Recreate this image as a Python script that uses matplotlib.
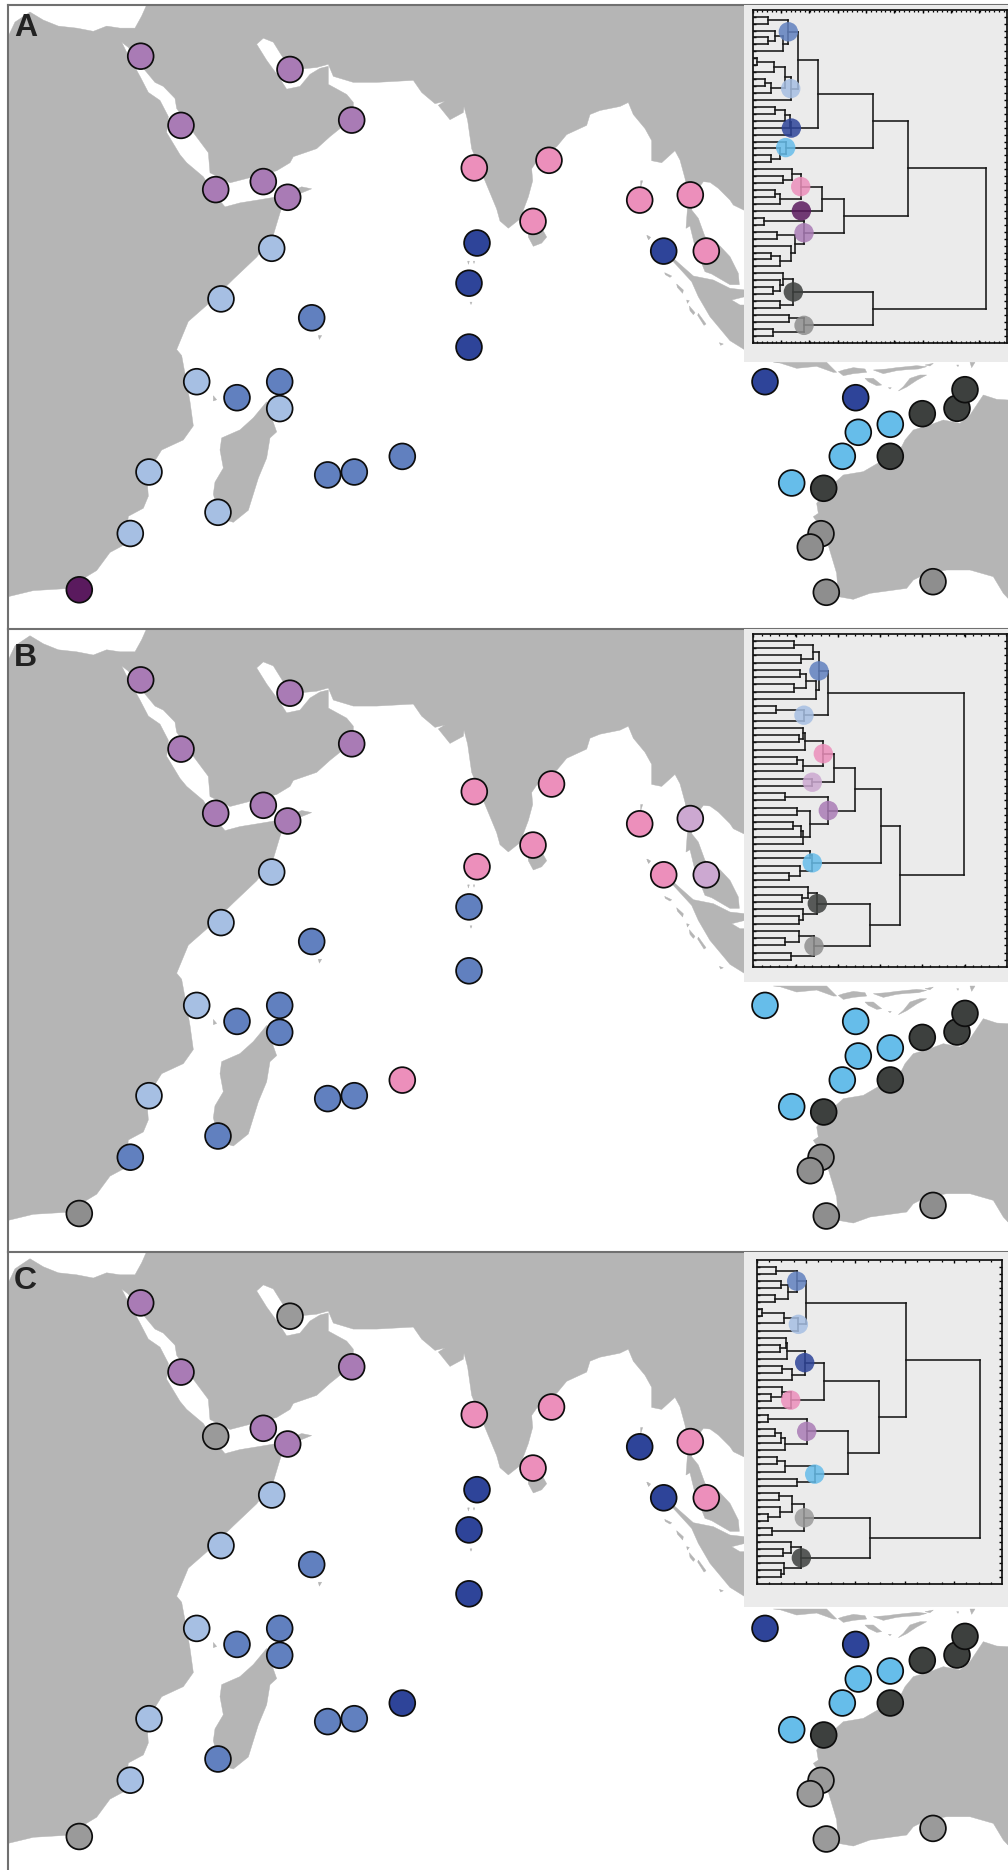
import matplotlib
matplotlib.use("Agg")
import matplotlib.pyplot as plt
from matplotlib.patches import Polygon, Rectangle
from matplotlib.collections import LineCollection
from matplotlib.ticker import MultipleLocator
import numpy as np

W, H = 1008, 1870
PU, LI, BL, DB, PK = '#a97bb5', '#a6bfe3', '#6180bf', '#2e4499', '#ec8fbb'
SK, DK, GR, DP, LP, LG = '#66bdea', '#3d403e', '#8e8e8e', '#5a1a5e', '#cca8d1', '#9a9a9a'
LAND = '#b5b5b5'

site_x = [140.7,290,181,351.7,215.7,263.3,287.7,271.7,221,311.7,196.7,237,279.7,279.7,149,218,130.3,79.3,
          327.7,354.3,402.3,474.3,549,533,477,469,469,639.7,690.3,663.7,706.3,765,855.7,858.3,890.3,842.3,
          791.7,922.3,957,965,890.3,823.7,821,810.3,826.3,933]
site_y = [56.2,69.5,125.4,120.1,189.6,181.6,197.3,248.3,298.9,317.8,381.7,397.7,381.7,408.6,472,512.3,533.5,589.8,
          474.9,472,456.4,167.9,160.3,221.4,243,283.2,347.1,200.1,194.9,251.1,251.1,381.7,397.7,432.3,424.3,456.3,
          483,413.7,408.3,389.7,456.3,488.3,533.7,547,592.3,581.7]
site_x_bc = list(site_x)
site_x_bc[22] = 551.5

colors_a = [PU]*7+[LI,LI,BL,LI,BL,BL,LI,LI,LI,LI,DP,BL,BL,BL,PK,PK,PK,DB,DB,DB,PK,PK,DB,PK,DB,DB,SK,SK,SK,SK,DK,DK,DK,DK,DK,GR,GR,GR,GR]
colors_b = [PU]*7+[LI,LI,BL,LI,BL,BL,BL,LI,BL,BL,GR,BL,BL,PK,PK,PK,PK,PK,BL,BL,PK,LP,PK,LP,SK,SK,SK,SK,SK,SK,DK,DK,DK,DK,DK,GR,GR,GR,GR]
colors_c = [PU,LG,PU,PU,LG,PU,PU,LI,LI,BL,LI,BL,BL,BL,LI,BL,LI,LG,BL,BL,DB,PK,PK,PK,DB,DB,DB,DB,PK,DB,PK,DB,DB,SK,SK,SK,SK,DK,DK,DK,DK,DK,LG,LG,LG,LG]

# coast traces
coast_west = [(25,1485),(100,1470),(200,1465),(290,1420),(330,1375),(375,1355),(385,1285),(430,1265),(445,1235),(440,1180),
 (485,1120),(550,1095),(580,1060),(570,1000),(555,930),(545,885),(530,870),(550,830),(565,800),(620,760),(700,695),(770,640),
 (820,585),(840,530),(850,505),(905,480),(935,470),(905,465),(830,490),(780,497),(720,505),(675,515),(640,480),(610,440),(560,405),
 (540,385),(500,330),(505,290),(480,250),(445,230),(420,190),(380,130),(365,105),(385,118),(420,160),(465,205),(490,215),(525,245),
 (530,270),(580,330),(625,380),(630,430),(690,455),(760,440),(830,425),(870,405),(880,390),(950,370),(990,340),(1020,320),(1060,275),
 (1060,255),(1040,235),(985,210),(985,165),(960,170),(930,185),(900,215),(860,222),(835,190),(800,150),(770,110),(790,95),(820,105),
 (850,145),(900,172),(950,168),(985,160),(1000,190),(1060,205),(1130,205),(1240,200)]
coast_india = [(65,230),(105,258),(135,252),(115,262),(150,298),(190,280),(192,265),(203,300),(215,370),(255,450),(290,520),(300,550),
 (325,568),(360,545),(385,490),(398,450),(395,420),(420,390),(470,365),(500,335),(560,312),(570,285),(600,275),(660,265),(685,255),
 (700,285),(735,320),(755,350),(755,400),(785,405),(825,375)]
coast_malay = [(150,30),(165,85),(175,140),(172,180),(168,235),(180,228),(195,290),(225,365),(245,372),(300,404),(328,404),(325,370),
 (300,320),(270,288),(225,260),(205,205),(185,180),(195,130),(220,95),(240,97),(265,115),(300,150),(310,165),(345,182),(345,-450)]
coast_north = [(440,12),(425,40),(405,70),(360,70),(320,65),(280,78),(230,70),(175,65),(130,50),(90,30),(45,55),(25,90)]
madagascar = [(760,1040),(800,1000),(815,1040),(830,1075),(810,1090),(800,1140),(775,1190),(745,1270),(700,1300),(660,1290),(640,1230),
 (645,1200),(670,1165),(660,1120),(665,1090),(720,1070)]
small_west = [[(640,985),(650,995),(640,998)],[(955,835),(965,835),(958,845)]]
sri_lanka = [(385,545),(420,560),(440,590),(425,605),(400,613),(385,590)]
small_mid = [[(203,650),(208,650),(205,658)],[(220,650),(224,650),(222,656)],[(210,752),(216,752),(213,758)],
 [(722,450),(728,450),(722,466)],[(740,586),(750,592),(746,597)]]
sumatra = [(100,303),(130,325),(190,378),(250,390),(300,415),(345,420),(345,440),(305,450),(330,465),(345,465),(345,600),(300,572),
 (240,500),(205,440),(185,395),(130,335)]
small_sumatra = [[(52,256),(62,262),(55,268)],[(104,368),(125,378),(120,382),(106,374)],[(140,402),(160,420),(158,430),(142,412)],
 [(178,468),(195,488),(190,494),(180,482)],[(205,490),(228,522),(222,526),(203,496)],[(170,450),(178,452),(172,460)],[(268,578),(280,582),(272,586)]]
indonesia = [[(130,22),(290,22),(320,52),(310,52),(260,34),(200,40),(150,24)],[(325,50),(340,45),(370,38),(405,42),(410,52),(370,56),(340,62)],
 [(430,45),(470,42),(500,38),(560,32),(590,35),(565,42),(530,44),(500,47),(460,56)],[(405,70),(430,70),(455,90),(440,92),(415,80)],
 [(505,108),(520,95),(540,70),(570,60),(590,60),(560,76),(530,96)],[(585,30),(610,25),(600,33)],[(720,22),(735,22),(725,38)],[(680,30),(686,30),(684,35)],[(475,98),(484,98),(480,102)]]
australia = [(1074,180),(1040,178),(1000,165),(960,225),(930,250),(880,240),(840,255),(790,270),(765,300),(755,320),(700,360),(640,395),(580,405),
 (530,450),(500,490),(505,520),(490,530),(510,560),(530,600),(545,650),(560,700),(565,770),(610,778),(660,760),(770,745),(790,720),(830,700),
 (890,690),(960,690),(1030,710),(1060,760),(1074,775)]

def zw(p): return [(x/3, y/2.489) for x, y in p]
def zm(p): return [(400+x/3, y/2.489) for x, y in p]
def z7(p): return [(630+x/3, 150+y/3) for x, y in p]
def z8(p): return [(730+x/3, 355+y/3) for x, y in p]
def z4(p): return [(650+x/3, 340+y/3) for x, y in p]

land = [zw(coast_west)+zm(coast_india)+z7(coast_malay)+zw(coast_north), zw(madagascar), zm(sri_lanka), z7(sumatra), z4(australia)]
land += [zw(s) for s in small_west]+[zm(s) for s in small_mid]+[z7(s) for s in small_sumatra]+[z8(s) for s in indonesia]

# dendrograms: (height, child, child[, cluster colour]); 0 = leaf, (h, colour) = leaf carrying a cluster dot
tree_a = (699,
 (467,
  (362,
   (197,
    (137,
     (107,(47,0,0),(90,(67,0,(47,0,0)),0),BL),
     (114,(97,(65,(14,0,0),0),(54,(37,0,0),0)),0,LI)),
    (116,(112,(97,(67,0,0),0),0),0,DB)),
   (99,0,(82,0,(54,0,0)),SK)),
  (275,
   (207,(144,(117,0,(90,0,0)),(82,(67,0,0),0),PK),(146,DP)),
   (154,(34,0,0),(127,(72,0,0),(115,0,(82,(54,0,0),0))),PU))),
 (360,
  (122,(90,0,(82,0,(62,0,0))),(82,0,0),DK),
  (154,(110,0,0),(62,0,0),GR)))

tree_b = (632,
 (223,
  (197,(180,(123,0,0),(142,0,0)),(188,(158,(140,0,0),(122,0,0)),0),BL),
  (152,(67,0,0),0,LI)),
 (440,
  (382,
   (304,
    (242,
     (210,(156,(150,0,(138,0,0)),0),(150,(130,0,0),0),PK),
     (177,0,0,LP)),
    (225,(95,0,0),(171,(132,0,0),(150,(142,(120,0,0),0),0)),PU)),
   (177,(170,0,0),(140,0,(108,0,0)),SK)),
  (350,
   (192,(165,0,(146,0,0)),(150,0,(138,0,0)),DK),
   (182,(138,0,(96,0,0)),(112,0,0),GR))))

tree_c = (671,
 (448,
  (147,
   (120,(57,0,0),(93,(72,0,0),(55,0,0)),BL),
   (125,(82,(17,0,0),0),0,LI)),
  (367,
   (203,
    (144,(90,(88,0,(70,0,0)),0),(107,(75,0,0),0),DB),
    (102,(75,0,(43,0,0)),0,PK)),
   (275,
    (150,(35,0,0),(85,(72,(55,0,0),0),0),PU),
    (174,(84,(62,0,0),0),(120,0,0),SK)))),
 (340,
  (143,(106,(66,0,0),(71,0,(35,0,0))),(47,0,0),LG),
  (134,(102,0,(80,0,0)),(83,0,(72,0,0)),DK)))

def layout(node, state):
    """returns (height, y) of node; fills segments and dots"""
    if node == 0 or len(node) == 2:
        y = state['n']
        state['n'] += 1
        if node != 0:
            state['dots'].append((node[0], y, node[1]))
        return 0, y
    h, a, b = node[:3]
    ha, ya = layout(a, state)
    hb, yb = layout(b, state)
    state['seg'] += [[(ha, ya), (h, ya)], [(hb, yb), (h, yb)], [(h, ya), (h, yb)]]
    y = (ya+yb)/2
    if len(node) == 4:
        state['dots'].append((h, y, node[3]))
    return h, y

fig = plt.figure(figsize=(W/100, H/100), dpi=100, facecolor='white')

def px_axes(x0, y0, x1, y1):
    return fig.add_axes([x0/W, 1-y1/H, (x1-x0)/W, (y1-y0)/H])

panels = [
 dict(top=5.0, bottom=628.7, label='A', base=36, sx=site_x, col=colors_a, tree=tree_a, inset=(744,5,362), box=(752.7,9.7,1006.7,342.7), width=762, major=85, minor=14.2),
 dict(top=628.7, bottom=1251.7, label='B', base=42, sx=site_x_bc, col=colors_b, tree=tree_b, inset=(744,628.7,982), box=(753.3,633.7,1006.7,967), width=760, major=126.7, minor=25.3),
 dict(top=1251.7, bottom=1870.0, label='C', base=42, sx=site_x_bc, col=colors_c, tree=tree_c, inset=(744,1251.7,1607), box=(756.7,1260,1001.7,1584.3), width=735, major=148, minor=37),
]

for p in panels:
    off = p['top']-5.0
    ax = px_axes(8, p['top'], W, p['bottom'])
    ax.set_xlim(8, W)
    ax.set_ylim(p['bottom']-off, 5.0)
    ax.set_xticks([]); ax.set_yticks([])
    for s in ('right', 'bottom'):
        ax.spines[s].set_visible(False)
    for s in ('left', 'top'):
        ax.spines[s].set_color('#707070')
        ax.spines[s].set_linewidth(1.5)
    for poly in land:
        ax.add_patch(Polygon(poly, closed=True, fc=LAND, ec=LAND, lw=0.3, zorder=1))
    ax.scatter(p['sx'], site_y, s=345, c=p['col'], edgecolors='#0d0d0d', linewidths=1.25, zorder=3)
    ax.text(14, p['base'], p['label'], family='Liberation Sans', weight='bold', fontsize=23, color='#222222', ha='left', va='baseline', zorder=4)
    ix, iy0, iy1 = p['inset']
    ax.add_patch(Rectangle((ix, iy0-off), W-ix, iy1-iy0, fc='#ebebeb', ec='none', zorder=5))

    st = dict(n=0, seg=[], dots=[])
    layout(p['tree'], st)
    n = st['n']
    x0, y0, x1, y1 = p['box']
    dax = px_axes(x0, y0, x1, y1)
    dax.patch.set_alpha(0)
    dax.set_xlim(0, p['width'])
    dax.set_ylim(n-1+1.0, -1.0)
    dax.add_collection(LineCollection(st['seg'], colors='#161616', linewidths=1.15, capstyle='projecting', zorder=2))
    hs, ys, cs = zip(*st['dots'])
    dax.scatter(hs, ys, s=195, c=list(cs), alpha=0.85, edgecolors='none', zorder=3, clip_on=False)
    dax.xaxis.set_major_locator(MultipleLocator(p['major']))
    dax.xaxis.set_minor_locator(MultipleLocator(p['minor']))
    dax.set_yticks(np.arange(n))
    dax.tick_params(axis='both', which='major', direction='in', top=True, right=True, length=2.4, width=1.0,
                    labelbottom=False, labelleft=False)
    dax.tick_params(axis='x', which='minor', direction='in', top=True, length=1.4, width=0.9)
    for s in dax.spines.values():
        s.set_linewidth(1.25)
        s.set_color('#111111')

fig.savefig('out.png', dpi=100, facecolor='white')
